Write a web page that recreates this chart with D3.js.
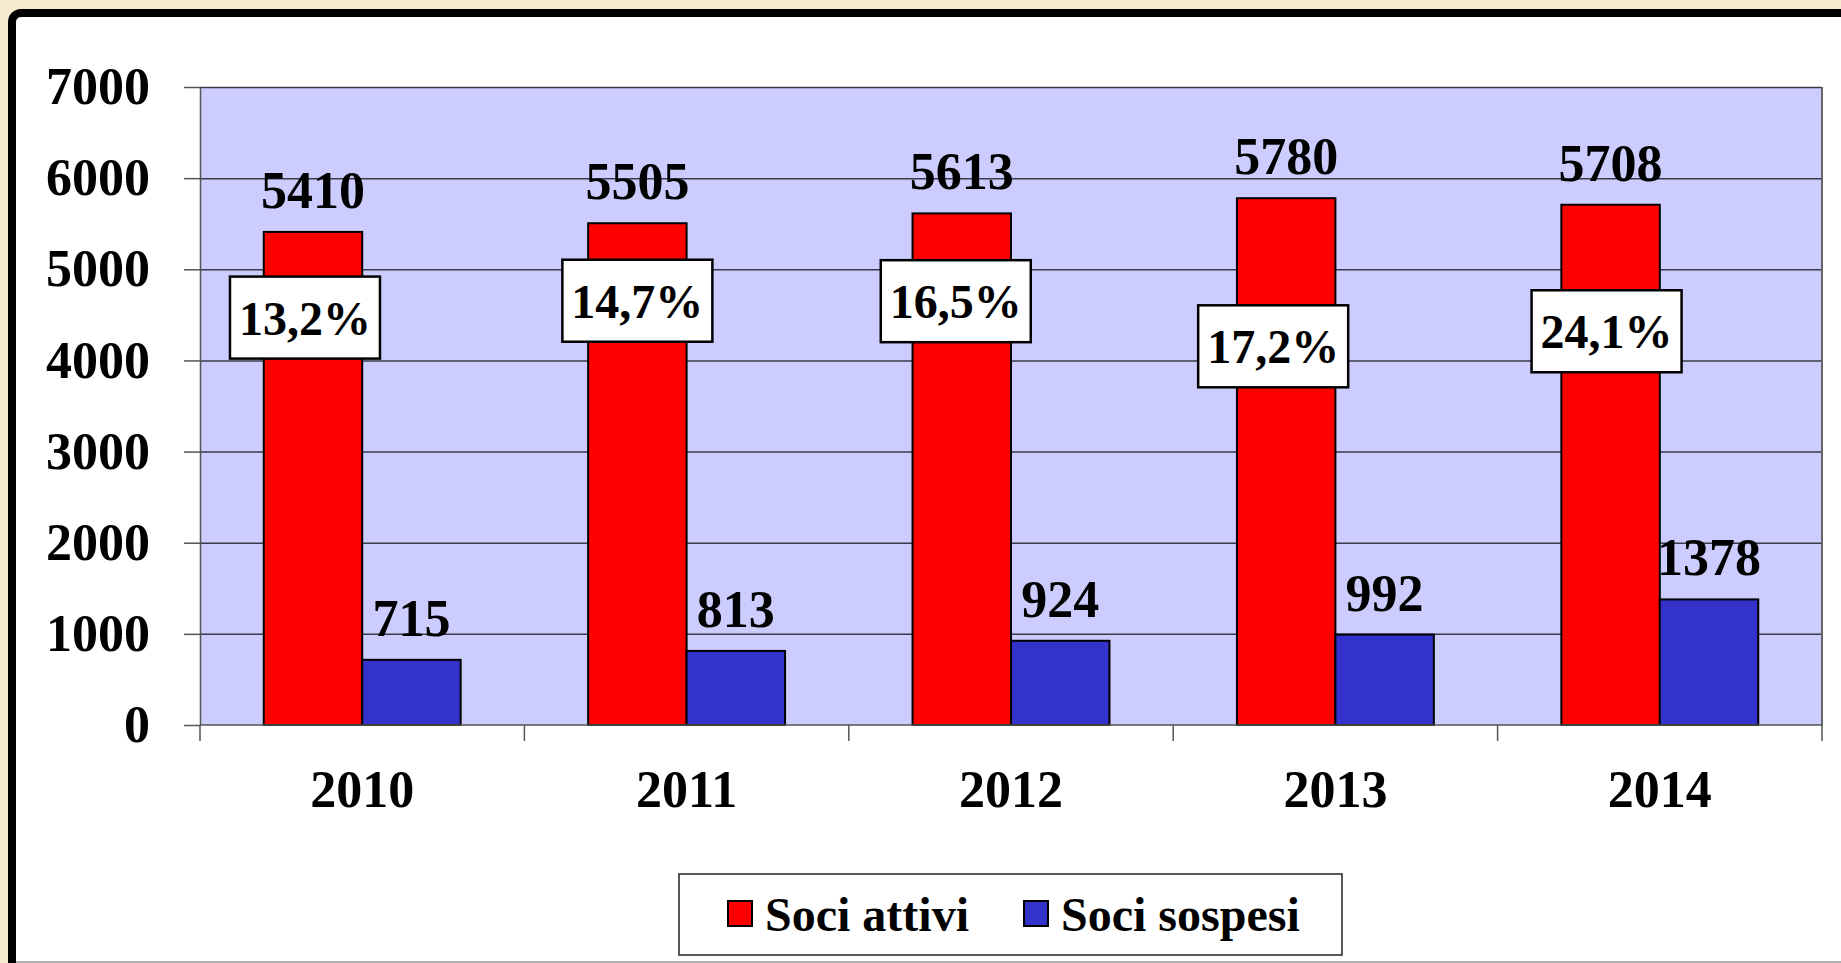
<!DOCTYPE html>
<meta charset="utf-8">
<style>
body { margin: 0; background: #f7e9d0; }
svg { display: block; }
text { font-family: "Liberation Serif", "Times New Roman", serif; font-weight: bold; fill: #000; }
.grid line { stroke: #3a3a4a; stroke-width: 1.5px; }
.axis path, .axis line { stroke: #555; stroke-width: 1.5px; fill: none; }
.bar { stroke: #000; stroke-width: 2px; }
</style>
<body>
<script src="https://d3js.org/d3.v7.min.js"></script>
<script>

// data
var years = ["2010", "2011", "2012", "2013", "2014"];
var sociAttivi = [5410, 5505, 5613, 5780, 5708];
var sociSospesi = [715, 813, 924, 992, 1378];
var percentuali = ["13,2%", "14,7%", "16,5%", "17,2%", "24,1%"];
var yTicks = [0, 1000, 2000, 3000, 4000, 5000, 6000, 7000];
var seriesNames = ["Soci attivi", "Soci sospesi"];
var seriesColors = ["#ff0000", "#3333cc"];

// where the % boxes were dragged to (value on y axis, shift in px)
var pctBoxY = [4470, 4655, 4650, 4155, 4320];
var pctBoxDx = [-8, 0, -6, -13, -4];

var W = 1841, H = 963;
var margin = {top: 87, left: 200, right: 19, bottom: 238};
var width = W - margin.left - margin.right,
    height = H - margin.top - margin.bottom;

var svg = d3.select("body").append("svg")
    .attr("width", W)
    .attr("height", H);

// frame
svg.append("rect")
    .attr("x", 12).attr("y", 13)
    .attr("width", W + 40).attr("height", H + 40)
    .attr("rx", 9)
    .attr("fill", "#fff")
    .attr("stroke", "#000")
    .attr("stroke-width", 8);
svg.append("line")
    .attr("x1", 16).attr("x2", W)
    .attr("y1", 962).attr("y2", 962)
    .attr("stroke", "#999").attr("stroke-width", 1.5);

var g = svg.append("g")
    .attr("transform", "translate(" + margin.left + "," + margin.top + ")");

// scales
var x0 = d3.scaleBand().domain(years).range([0, width])
    .paddingInner(0.393).paddingOuter(0.1965);
var x1 = d3.scaleBand().domain([0, 1]).range([0, x0.bandwidth()]);
var y = d3.scaleLinear().domain([0, 7000]).range([height, 0]);

// plot background
g.append("rect")
    .attr("width", width).attr("height", height)
    .attr("fill", "#ccccff");

// grid
g.append("g")
    .attr("class", "grid")
    .call(d3.axisLeft(y).tickValues(yTicks.slice(1)).tickSize(-width).tickFormat(""))
    .call(function(s) { s.select(".domain").remove(); });

// right border of plot
g.append("line")
    .attr("x1", width).attr("x2", width)
    .attr("y1", 0).attr("y2", height)
    .attr("stroke", "#666").attr("stroke-width", 2);

// y axis
var yAxis = g.append("g")
    .attr("class", "axis")
    .call(d3.axisLeft(y).tickValues(yTicks).tickFormat(d3.format("d"))
      .tickSize(16).tickSizeOuter(0).tickPadding(34));
yAxis.selectAll("text")
    .style("font-size", "52px")
    .attr("dy", "0.32em");

// bars
var groups = g.selectAll(".year")
    .data(years)
  .enter().append("g")
    .attr("class", "year")
    .attr("transform", function(d) { return "translate(" + x0(d) + ",0)"; });

[sociAttivi, sociSospesi].forEach(function(values, s) {
  groups.append("rect")
      .attr("class", "bar")
      .attr("x", x1(s))
      .attr("width", x1.bandwidth())
      .attr("y", function(d, i) { return y(values[i]); })
      .attr("height", function(d, i) { return height - y(values[i]); })
      .attr("fill", seriesColors[s]);

  groups.append("text")
      .attr("x", x1(s) + x1.bandwidth() / 2)
      .attr("y", function(d, i) { return y(values[i]) - 24; })
      .attr("text-anchor", "middle")
      .style("font-size", "52px")
      .text(function(d, i) { return values[i]; });
});

// x axis line + ticks at category borders
var xAxis = g.append("g")
    .attr("class", "axis")
    .attr("transform", "translate(0," + height + ")");
xAxis.append("line")
    .attr("x1", 0).attr("x2", width);
xAxis.selectAll(".tk")
    .data(d3.range(years.length + 1))
  .enter().append("line")
    .attr("x1", function(i) { return i * x0.step(); })
    .attr("x2", function(i) { return i * x0.step(); })
    .attr("y1", 0).attr("y2", 16);
xAxis.selectAll(".lbl")
    .data(years)
  .enter().append("text")
    .attr("x", function(d) { return x0(d) + x0.bandwidth() / 2; })
    .attr("y", 82)
    .attr("text-anchor", "middle")
    .style("font-size", "52px")
    .text(function(d) { return d; });

// percentage boxes
var pct = g.selectAll(".pct")
    .data(years)
  .enter().append("g")
    .attr("class", "pct")
    .attr("transform", function(d, i) {
      var cx = x0(d) + x1(0) + x1.bandwidth() / 2 + pctBoxDx[i];
      return "translate(" + cx + "," + y(pctBoxY[i]) + ")";
    });
pct.append("rect")
    .attr("fill", "#fff")
    .attr("stroke", "#000")
    .attr("stroke-width", 2.5);
pct.append("text")
    .attr("text-anchor", "middle")
    .attr("y", 17)
    .style("font-size", "48px")
    .text(function(d, i) { return percentuali[i]; });
pct.each(function() {
  var t = d3.select(this).select("text").node().getBBox();
  d3.select(this).select("rect")
      .attr("x", -t.width / 2 - 9)
      .attr("width", t.width + 18)
      .attr("y", -41)
      .attr("height", 82);
});

// legend
var legend = svg.append("g");
legend.append("rect")
    .attr("x", 679).attr("y", 874)
    .attr("width", 663).attr("height", 81)
    .attr("fill", "#fff")
    .attr("stroke", "#222")
    .attr("stroke-width", 1.5);
var legX = [728, 1024];
seriesNames.forEach(function(name, s) {
  legend.append("rect")
      .attr("x", legX[s]).attr("y", 901)
      .attr("width", 24).attr("height", 25)
      .attr("fill", seriesColors[s])
      .attr("stroke", "#000")
      .attr("stroke-width", 2);
  legend.append("text")
      .attr("x", legX[s] + 37)
      .attr("y", 931)
      .style("font-size", "48px")
      .text(name);
});

</script>
</body>
